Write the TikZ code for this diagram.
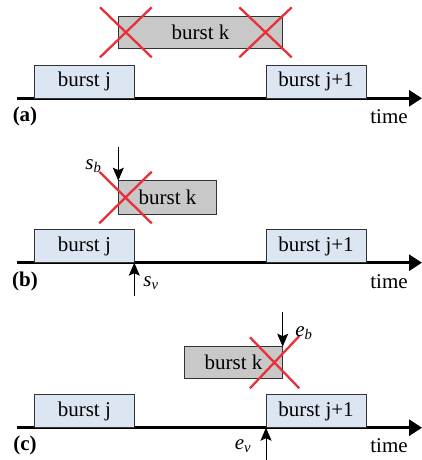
\documentclass[tikz,border=0pt]{standalone}
\usepackage{fontspec}
\setmainfont{Liberation Serif}
\usetikzlibrary{arrows.meta}
\definecolor{boxblue}{HTML}{DCE6F2}
\definecolor{boxgray}{HTML}{C8C8C8}
\definecolor{xred}{HTML}{E8303A}
\newcommand\isub[2]{\textit{#1}\textsubscript{\textit{#2}}}
\tikzset{
  burst/.style={draw=black!80, line width=0.9pt, inner sep=0pt, outer sep=0pt, anchor=south west, font=\fontsize{21}{24}\selectfont},
  bj/.style={burst, fill=boxblue, minimum width=100pt, minimum height=33pt},
  bkb/.style={burst, fill=boxgray, minimum height=32pt},
  axis/.style={line width=2.8pt, -{Triangle[length=13pt,width=16pt]}},
  cross/.style={xred, line width=2.3pt},
  tickarrow/.style={line width=1pt, -{Stealth[length=13pt,width=11pt,inset=2.5pt]}},
  lbl/.style={font=\fontsize{21}{24}\selectfont, inner sep=0pt},
  plbl/.style={font=\fontsize{21}{24}\selectfont\bfseries, inner sep=0pt}
}
\begin{document}
\begin{tikzpicture}[x=1pt,y=-1pt]
\useasboundingbox (0,0) rectangle (422,460);
% ---------- (a)
\coordinate (a0) at (17,98.3);
\coordinate (a1) at (422,98.3);
\draw[axis] (a0) -- (a1);
\node[bj] (bja) at (34.3,98.3) {burst j};
\node[bj] (bj1a) at (266,98.3) {burst j+1};
\node[bkb, minimum width=164.4pt] (bka) at (118.3,48.3) {burst k};
\draw[cross] (100,7.3) -- (151.7,57.3) (151.7,7.3) -- (100,57.3);
\draw[cross] (239.3,7.3) -- (291.7,57.3) (291.7,7.3) -- (239.3,57.3);
\node[plbl] (pa) at (25,116.5) {(a)};
\node[lbl] (ta) at (389,117) {time};
% ---------- (b)
\coordinate (b0) at (17,262.7);
\coordinate (b1) at (422,262.7);
\draw[axis] (b0) -- (b1);
\node[bj] (bjb) at (34.3,262.7) {burst j};
\node[bj] (bj1b) at (266,262.7) {burst j+1};
\node[bkb, minimum width=98.4pt, minimum height=33.3pt] (bkb) at (118.3,214) {burst k};
\draw[cross] (99.3,171.7) -- (151.7,223.3) (151.7,171.7) -- (99.3,223.3);
\coordinate (sbtop) at (118.3,147);
\draw[tickarrow] (sbtop) -- (bkb.north west);
\node[lbl] (sb) at (93.5,166) {\isub{s}{b}};
\coordinate (svbot) at (134.3,296);
\draw[tickarrow] (svbot) -- (bjb.south east);
\node[lbl] (sv) at (151,283) {\isub{s}{v}};
\node[plbl] (pb) at (25,281.5) {(b)};
\node[lbl] (tb) at (389,282) {time};
% ---------- (c)
\coordinate (c0) at (17,427.7);
\coordinate (c1) at (422,427.7);
\draw[axis] (c0) -- (c1);
\node[bj] (bjc) at (34.3,427.7) {burst j};
\node[bj] (bj1c) at (266,427.7) {burst j+1};
\node[bkb, minimum width=98.4pt] (bkc) at (184.3,378.7) {burst k};
\draw[cross] (250,388.3) -- (299.3,336) (250,337.3) -- (299.3,388.3);
\coordinate (ebtop) at (282.7,312);
\draw[tickarrow] (ebtop) -- (bkc.north east);
\node[lbl] (eb) at (304,333) {\isub{e}{b}};
\coordinate (evbot) at (266,460);
\draw[tickarrow] (evbot) -- (bj1c.south west);
\node[lbl] (ev) at (243,446.5) {\isub{e}{v}};
\node[plbl] (pc) at (25,445) {(c)};
\node[lbl] (tc) at (389,446) {time};
\end{tikzpicture}
\end{document}
